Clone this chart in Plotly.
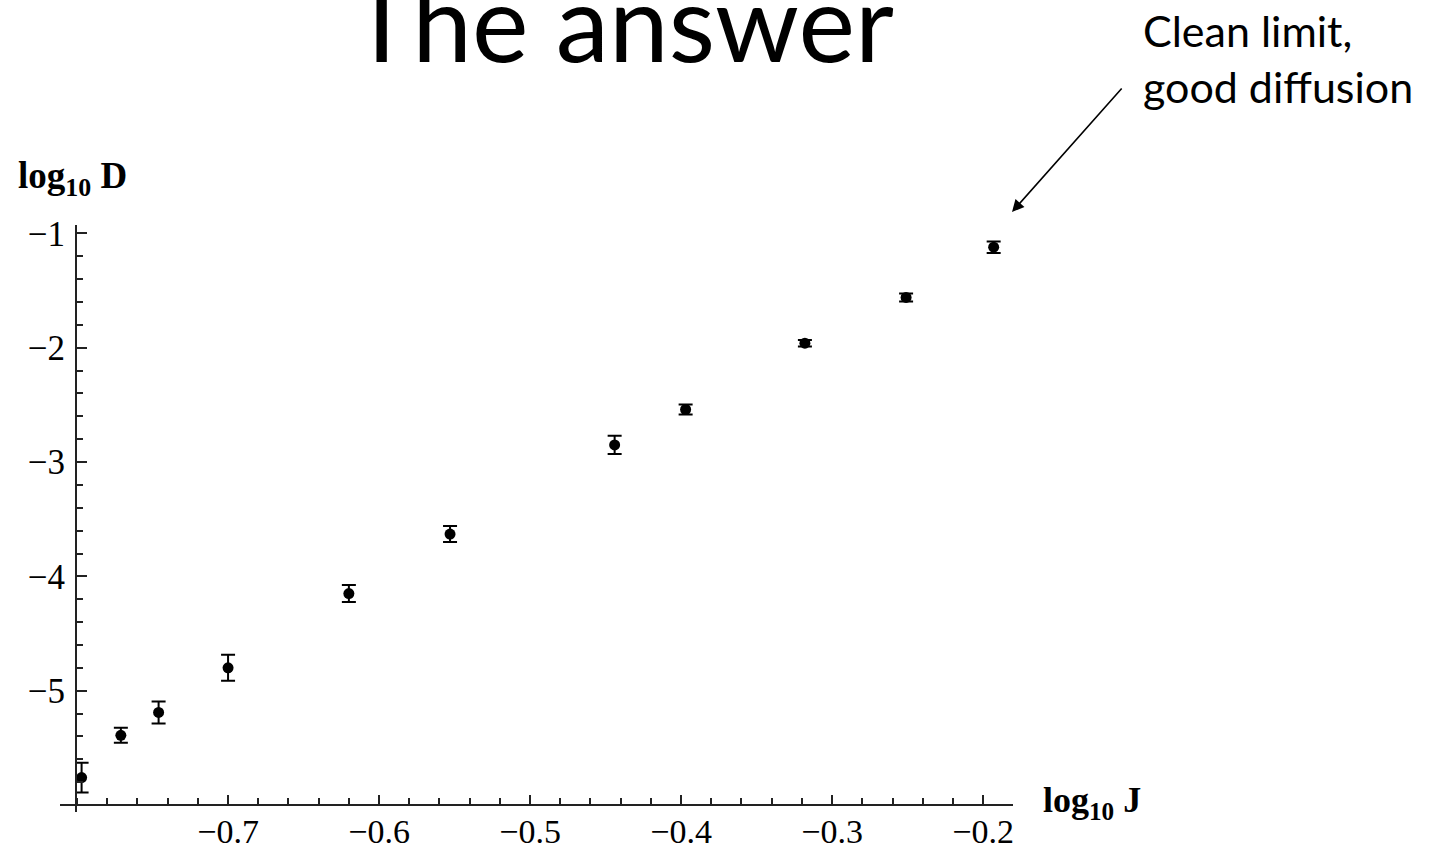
import plotly.graph_objects as go

# data
log_J = [-0.797, -0.771, -0.746, -0.700, -0.620, -0.553, -0.444, -0.397, -0.318, -0.251, -0.193]
log_D = [-5.76, -5.39, -5.19, -4.80, -4.15, -3.63, -2.85, -2.54, -1.96, -1.56, -1.12]
err_D = [0.13, 0.066, 0.096, 0.114, 0.074, 0.07, 0.08, 0.044, 0.028, 0.035, 0.05]
x_ticks = [-0.7, -0.6, -0.5, -0.4, -0.3, -0.2]
y_ticks = [-1, -2, -3, -4, -5]

W, H = 1430, 850
X0, X1, Y0, Y1 = 76, 1013, 225, 805  # plot area in pixels


def px(x):
    return (x - X0) / (X1 - X0)


def py(y):
    return (Y1 - y) / (Y1 - Y0)


fig = go.Figure()
fig.add_trace(go.Scatter(
    x=log_J, y=log_D, mode="markers",
    marker=dict(color="black", size=11),
    error_y=dict(type="data", array=err_D, visible=True, color="black", thickness=2, width=7),
    showlegend=False,
))

serif = "Liberation Serif, Times New Roman, serif"
axis_col = "#222222"

fig.update_layout(
    width=W, height=H,
    margin=dict(l=X0, r=W - X1, t=Y0, b=H - Y1, autoexpand=False),
    paper_bgcolor="white", plot_bgcolor="white",
    xaxis=dict(
        range=[-0.8007, -0.1802], showgrid=False, zeroline=False, showline=False, automargin=False,
        tickmode="array", tickvals=x_ticks, ticktext=["−0.7", "−0.6", "−0.5", "−0.4", "−0.3", "−0.2"],
        ticks="inside", ticklen=10, tickwidth=2, tickcolor=axis_col,
        tickfont=dict(family=serif, size=34, color="black"),
        minor=dict(dtick=0.02, tick0=0, ticks="inside", ticklen=7, tickwidth=2, tickcolor=axis_col, showgrid=False),
        ticklabelstandoff=3,
    ),
    yaxis=dict(
        range=[-6.0, -0.926], showgrid=False, zeroline=False, showline=False, automargin=False,
        tickmode="array", tickvals=y_ticks, ticktext=["−1", "−2", "−3", "−4", "−5"],
        ticks="inside", ticklen=11, tickwidth=2, tickcolor=axis_col,
        tickfont=dict(family=serif, size=35, color="black"),
        minor=dict(dtick=0.2, tick0=0, ticks="inside", ticklen=7, tickwidth=2, tickcolor=axis_col, showgrid=False),
        ticklabelstandoff=10,
    ),
)

# axis lines (crossing slightly past each other, as in the reference)
fig.add_shape(type="line", xref="paper", yref="paper", x0=px(60), x1=1, y0=0, y1=0,
              line=dict(color=axis_col, width=2))
fig.add_shape(type="line", xref="paper", yref="paper", x0=0, x1=0, y0=py(812), y1=1,
              line=dict(color=axis_col, width=2))

# axis titles
fig.add_annotation(xref="paper", yref="paper", x=px(16), y=py(178), xanchor="left", yanchor="middle",
                   text="<b>log<sub>10</sub> D</b>", showarrow=False,
                   font=dict(family=serif, size=37, color="black"))
fig.add_annotation(xref="paper", yref="paper", x=px(1041), y=py(802), xanchor="left", yanchor="middle",
                   text="<b>log<sub>10</sub> J</b>", showarrow=False,
                   font=dict(family=serif, size=36, color="black"))

# slide title (cut off at the top)
fig.add_annotation(xref="paper", yref="paper", x=px(622), y=py(87), xanchor="center", yanchor="bottom",
                   text="The answer", showarrow=False,
                   font=dict(family="Lato, sans-serif", size=107, color="black"))

# callout text and arrow
fig.add_annotation(xref="paper", yref="paper", x=px(1141), y=py(3), xanchor="left", yanchor="top",
                   text="Clean limit,<br>good diffusion", showarrow=False, align="left",
                   font=dict(family="Lato, sans-serif", size=43, color="black"))
fig.add_annotation(xref="paper", yref="paper", x=px(1012), y=py(212), text="",
                   showarrow=True, ax=111, ay=-125, arrowhead=2, arrowsize=1.5, arrowwidth=1.6,
                   arrowcolor="black")

fig.write_html("out.html")
